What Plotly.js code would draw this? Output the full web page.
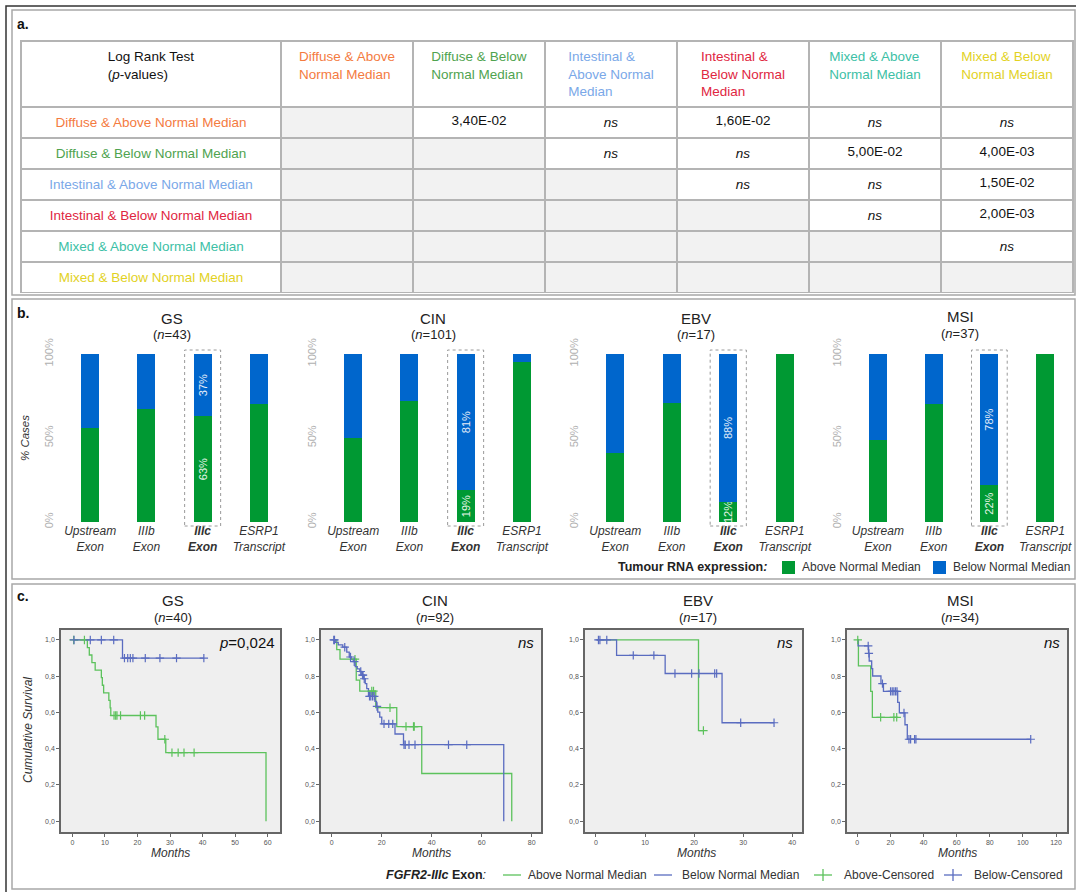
<!DOCTYPE html>
<html>
<head>
<meta charset="utf-8">
<script src="https://cdn.plot.ly/plotly-3.0.1.min.js"></script>
<style>html,body{margin:0;padding:0;background:#fff;}#chart{width:1076px;height:892px;}</style>
</head>
<body>
<div id="chart"></div>
<script>
// ---------------- DATA ----------------
// Panel a: Log rank test p-values
const groupLabels = ['Diffuse & Above Normal Median','Diffuse & Below Normal Median','Intestinal & Above Normal Median','Intestinal & Below Normal Median','Mixed & Above Normal Median','Mixed & Below Normal Median'];
const headerLabels = ['Diffuse & Above<br>Normal Median','Diffuse & Below<br>Normal Median','Intestinal &<br>Above Normal<br>Median','Intestinal &<br>Below Normal<br>Median','Mixed & Above<br>Normal Median','Mixed & Below<br>Normal Median'];
const groupColors = ['#f47b3f','#4fa34f','#7aa8e8','#e0263f','#3dbfa6','#e2d21f'];
const pRow1 = ['', '3,40E-02', 'ns', '1,60E-02', 'ns', 'ns'];
const pRow2 = ['', '', 'ns', 'ns', '5,00E-02', '4,00E-03'];
const pRow3 = ['', '', '', 'ns', 'ns', '1,50E-02'];
const pRow4 = ['', '', '', '', 'ns', '2,00E-03'];
const pRow5 = ['', '', '', '', '', 'ns'];
const pRow6 = ['', '', '', '', '', ''];

// Panel b: % cases above / below normal median
const subtypes = ['GS','CIN','EBV','MSI'];
const barN = [43, 101, 17, 37];
const barCats = ['Upstream Exon','IIIb Exon','IIIc Exon','ESRP1 Transcript'];
const barTickLabels = ['<i>Upstream<br>Exon</i>','<i>IIIb<br>Exon</i>','<b><i>IIIc<br>Exon</i></b>','<i>ESRP1<br>Transcript</i>'];
const aboveGS  = [56, 67, 63, 70];   const belowGS  = [44, 33, 37, 30];
const aboveCIN = [50, 72, 19, 95];   const belowCIN = [50, 28, 81, 5];
const aboveEBV = [41, 71, 12, 100];  const belowEBV = [59, 29, 88, 0];
const aboveMSI = [49, 70, 22, 100];  const belowMSI = [51, 30, 78, 0];
const barPctText = ['', '', 'show', ''];
const barSeriesNames = ['Above Normal Median', 'Below Normal Median'];

// Panel c: Kaplan-Meier curves (months, cumulative survival)
const survN = [40, 92, 17, 34];
const survP = ['<i>p</i>=0,024', '<i>ns</i>', '<i>ns</i>', '<i>ns</i>'];
const kmSeriesNames = ['Above Normal Median', 'Below Normal Median', 'Above-Censored', 'Below-Censored'];
// GS
const gsAboveT = [0.3,4.6,5.2,6.0,7.0,8.9,9.2,9.6,11.2,11.6,11.8,25.7,26.3,28.7,59.5];
const gsAboveS = [1,0.958,0.917,0.875,0.833,0.792,0.75,0.708,0.667,0.625,0.583,0.52,0.452,0.378,0];
const gsAboveCT = [0.4,3.7,12.8,13.3,13.7,14.8,20.9,22.2,28.4,30.6,32.5,34.3,37.4];
const gsAboveCS = [1,1,0.583,0.583,0.583,0.583,0.583,0.583,0.452,0.378,0.378,0.378,0.378];
const gsBelowT = [0.3,15.4,40.4];
const gsBelowS = [1,0.9,0.9];
const gsBelowCT = [0.5,5.5,8.9,12.7,16.0,17.0,17.8,18.6,22.4,26.9,32.0,40.4];
const gsBelowCS = [1,1,1,1,0.9,0.9,0.9,0.9,0.9,0.9,0.9,0.9];
// CIN
const cinAboveT = [0.6,2.0,3.3,9.8,11.2,17.6,26.0,36.0,72.0];
const cinAboveS = [1,0.947,0.894,0.778,0.718,0.626,0.522,0.263,0];
const cinAboveCT = [9.3,16.0,16.7,23.3,29.7,32.7,33.0];
const cinAboveCS = [0.894,0.718,0.718,0.626,0.522,0.522,0.522];
const cinBelowT = [0.4,1.4,2.6,4.4,6.0,7.0,7.8,8.6,9.4,10.2,11.2,12.0,12.7,13.4,14.0,14.7,17.3,17.9,18.4,19.2,20.0,25.3,28.7,68.8];
const cinBelowS = [1,0.987,0.973,0.96,0.933,0.906,0.893,0.88,0.853,0.84,0.826,0.806,0.786,0.759,0.731,0.689,0.661,0.633,0.602,0.574,0.537,0.481,0.422,0];
const cinBelowCT = [0.8,1.1,5.2,7.5,9.0,11.6,12.3,12.5,13.0,15.1,15.6,16.3,17.0,18.1,20.9,22.8,24.4,28.9,29.4,30.9,33.3,46.7,54.0];
const cinBelowCS = [1,1,0.96,0.906,0.88,0.826,0.806,0.806,0.786,0.689,0.689,0.689,0.689,0.633,0.537,0.537,0.537,0.422,0.422,0.422,0.422,0.422,0.422];
// EBV
const ebvAboveT = [0.2,20.9,21.9];
const ebvAboveS = [1,0.5,0.5];
const ebvAboveCT = [21.9];
const ebvAboveCS = [0.5];
const ebvBelowT = [0.2,4.2,14.1,25.7,36.3];
const ebvBelowS = [1,0.915,0.815,0.543,0.543];
const ebvBelowCT = [0.5,0.8,2.2,7.6,11.8,16.1,19.5,21.0,24.2,24.6,29.5,36.3];
const ebvBelowCS = [1,1,1,0.915,0.915,0.815,0.815,0.815,0.815,0.815,0.543,0.543];
// MSI
const msiAboveT = [0,0.7,8.1,9.1,24.2];
const msiAboveS = [1,0.857,0.716,0.573,0.573];
const msiAboveCT = [0.3,14.1,22.1,23.8];
const msiAboveCS = [1,0.573,0.573,0.573];
const msiBelowT = [0,0.5,6.8,7.2,8.7,9.3,14.3,15.8,24.4,25.4,28.8,30.2,104.7];
const msiBelowS = [1,0.967,0.926,0.884,0.842,0.801,0.759,0.716,0.656,0.597,0.532,0.452,0.452];
const msiBelowCT = [6.6,7.0,15.2,20.1,21.1,22.1,23.1,24.0,28.2,31.2,32.2,34.6,35.4,104.7];
const msiBelowCS = [0.967,0.926,0.759,0.716,0.716,0.716,0.716,0.716,0.597,0.452,0.452,0.452,0.452,0.452];

const survXTicks = [[0,10,20,30,40,50,60],[0,20,40,60,80],[0,10,20,30,40],[0,20,40,60,80,100,120]];
const survYTicks = [0,0.2,0.4,0.6,0.8,1.0];

// ---------------- LAYOUT HELPERS ----------------
const W = 1076, H = 892;
const px = x => x / W;
const py = y => 1 - y / H;
const FONT = 'Liberation Sans, Arial, sans-serif';
const GREEN_BAR = '#009933', BLUE_BAR = '#0066cc';
const GREEN_KM = '#5cc25c', BLUE_KM = '#5a6cc0';

const traces = [];

// ---------------- TABLE ----------------
const pRows = [pRow1,pRow2,pRow3,pRow4,pRow5,pRow6];
const fmt = v => v === 'ns' ? '<i>ns</i>' : v;
const cellCols = [groupLabels].concat(headerLabels.map((h, j) => pRows.map(r => fmt(r[j]))));
const cellFill = cellCols.map((col, j) => col.map((v, i) => (j === 0) ? 'white' : ((j - 1) <= i ? '#f2f2f2' : 'white')));
const cellFont = cellCols.map((col, j) => col.map((v, i) => j === 0 ? groupColors[i] : '#111'));
traces.push({
  type: 'table',
  domain: {x: [px(21), px(1073)], y: [py(293), py(41)]},
  columnwidth: [260,132,132,132,132,132,132],
  header: {
    values: ['Log Rank Test<br>(<i>p</i>-values)'].concat(headerLabels),
    align: 'center', height: 62,
    font: {family: FONT, size: 13.5, color: ['#111'].concat(groupColors)},
    fill: {color: 'white'},
    line: {color: '#b4b4b4', width: 1.5}
  },
  cells: {
    values: cellCols, align: 'center', height: 31,
    font: {family: FONT, size: 13.5, color: cellFont},
    fill: {color: cellFill},
    line: {color: '#b4b4b4', width: 1.5}
  }
});

// ---------------- BARS ----------------
const aboveAll = [aboveGS, aboveCIN, aboveEBV, aboveMSI];
const belowAll = [belowGS, belowCIN, belowEBV, belowMSI];
const barDomains = [[62,287],[325,550],[587,813],[850,1073]];
const barTitleX = [172, 433, 696, 960];
const layout = {
  width: W, height: H, margin: {l:0,r:0,t:0,b:0},
  paper_bgcolor: 'white', plot_bgcolor: 'rgba(0,0,0,0)',
  barmode: 'stack', separators: ',.',
  font: {family: FONT, color: '#222'},
  showlegend: false,
  shapes: [], annotations: []
};

subtypes.forEach((s, k) => {
  const ax = k + 1;
  const xa = 'x' + ax, ya = 'y' + ax;
  traces.push({
    type: 'bar', x: barCats, y: aboveAll[k], xaxis: xa, yaxis: ya, width: 0.32,
    name: barSeriesNames[0], marker: {color: GREEN_BAR, line: {width: 0}},
    text: aboveAll[k].map((v, i) => barPctText[i] ? v + '%' : ''),
    textposition: 'inside', insidetextanchor: 'middle', textangle: -90, constraintext: 'none',
    textfont: {family: FONT, size: 11, color: '#e8f5e8'}, hoverinfo: 'skip'
  });
  traces.push({
    type: 'bar', x: barCats, y: belowAll[k], xaxis: xa, yaxis: ya, width: 0.32,
    name: barSeriesNames[1], marker: {color: BLUE_BAR, line: {width: 0}},
    text: belowAll[k].map((v, i) => barPctText[i] ? v + '%' : ''),
    textposition: 'inside', insidetextanchor: 'middle', textangle: -90, constraintext: 'none',
    textfont: {family: FONT, size: 11, color: '#e6eefa'}, hoverinfo: 'skip'
  });
  const d = barDomains[k];
  layout['xaxis' + ax] = {
    domain: [px(d[0]), px(d[1])], range: [-0.5, 3.5], anchor: ya, type: 'category',
    tickvals: barCats, ticktext: barTickLabels, showgrid: false, zeroline: false, showline: false, ticks: '',
    tickfont: {family: FONT, size: 12, color: '#333'}, fixedrange: true
  };
  layout['yaxis' + ax] = {
    domain: [py(522), py(354)], range: [0, 100], anchor: xa,
    tickvals: [0, 50, 100], ticktext: ['0%', '50%', '100%'], tickangle: -90,
    tickfont: {family: FONT, size: 11, color: '#b0b0b0'}, showgrid: false, zeroline: false, showline: false, ticks: '',
    ticklabelstandoff: 6, fixedrange: true
  };
  layout.shapes.push({type: 'rect', xref: xa, yref: 'paper', x0: 1.68, x1: 2.32, y0: py(526), y1: py(350),
    line: {color: '#9a9a9a', width: 1, dash: 'dot'}, fillcolor: 'rgba(0,0,0,0)'});
  layout.annotations.push({xref: 'paper', yref: 'paper', x: px(barTitleX[k]), y: py(k === 3 ? 316 : 318), text: s,
    showarrow: false, font: {family: FONT, size: 15, color: '#222'}, xanchor: 'center', yanchor: 'middle'});
  layout.annotations.push({xref: 'paper', yref: 'paper', x: px(barTitleX[k]), y: py(k === 3 ? 333 : 335), text: '(<i>n</i>=' + barN[k] + ')',
    showarrow: false, font: {family: FONT, size: 13, color: '#222'}, xanchor: 'center', yanchor: 'middle'});
});

// ---------------- SURVIVAL ----------------
const survSets = [
  [gsAboveT, gsAboveS, gsBelowT, gsBelowS, gsAboveCT, gsAboveCS, gsBelowCT, gsBelowCS],
  [cinAboveT, cinAboveS, cinBelowT, cinBelowS, cinAboveCT, cinAboveCS, cinBelowCT, cinBelowCS],
  [ebvAboveT, ebvAboveS, ebvBelowT, ebvBelowS, ebvAboveCT, ebvAboveCS, ebvBelowCT, ebvBelowCS],
  [msiAboveT, msiAboveS, msiBelowT, msiBelowS, msiAboveCT, msiAboveCS, msiBelowCT, msiBelowCS]
];
const survDomains = [[61,280],[321,541],[585,802],[847,1067]];
const survRanges = [[-3.5,63.8],[-4.3,83.7],[-2.24,42.0],[-6.2,126.6]];
const survTitleX = [173, 435, 698, 960];
const monthsX = [170, 431, 696, 957];
const pRight = [277, 536, 795, 1062];

subtypes.forEach((s, k) => {
  const ax = k + 5;
  const xa = 'x' + ax, ya = 'y' + ax;
  const d = survSets[k];
  traces.push({type: 'scatter', mode: 'lines', x: d[0], y: d[1], xaxis: xa, yaxis: ya,
    line: {color: GREEN_KM, width: 1.3, shape: 'hv'}, name: kmSeriesNames[0], hoverinfo: 'skip'});
  traces.push({type: 'scatter', mode: 'lines', x: d[2], y: d[3], xaxis: xa, yaxis: ya,
    line: {color: BLUE_KM, width: 1.3, shape: 'hv'}, name: kmSeriesNames[1], hoverinfo: 'skip'});
  traces.push({type: 'scatter', mode: 'markers', x: d[4], y: d[5], xaxis: xa, yaxis: ya,
    marker: {symbol: 'cross-thin', size: 6, line: {color: GREEN_KM, width: 1.2}, color: GREEN_KM},
    name: kmSeriesNames[2], hoverinfo: 'skip'});
  traces.push({type: 'scatter', mode: 'markers', x: d[6], y: d[7], xaxis: xa, yaxis: ya,
    marker: {symbol: 'cross-thin', size: 6, line: {color: BLUE_KM, width: 1.2}, color: BLUE_KM},
    name: kmSeriesNames[3], hoverinfo: 'skip'});
  const dm = survDomains[k];
  layout['xaxis' + ax] = {
    domain: [px(dm[0]), px(dm[1])], range: survRanges[k], anchor: ya,
    tickvals: survXTicks[k], ticks: 'outside', ticklen: 3, tickcolor: '#666', tickwidth: 1,
    tickfont: {family: FONT, size: 7, color: '#555'}, showgrid: false, zeroline: false,
    showline: true, mirror: true, linecolor: '#666', linewidth: 1.5, fixedrange: true
  };
  layout['yaxis' + ax] = {
    domain: [py(832), py(630)], range: [-0.06, 1.055], anchor: xa,
    tickvals: survYTicks, tickformat: '.1f', ticks: 'outside', ticklen: 3, tickcolor: '#666', tickwidth: 1,
    tickfont: {family: FONT, size: 7, color: '#555'}, showgrid: false, zeroline: false,
    showline: true, mirror: true, linecolor: '#666', linewidth: 1.5, fixedrange: true
  };
  layout.shapes.push({type: 'rect', xref: xa + ' domain', yref: ya + ' domain', x0: 0, x1: 1, y0: 0, y1: 1,
    fillcolor: '#efefef', line: {width: 0}, layer: 'below'});
  layout.annotations.push({xref: 'paper', yref: 'paper', x: px(survTitleX[k]), y: py(600), text: s,
    showarrow: false, font: {family: FONT, size: 15, color: '#222'}, xanchor: 'center', yanchor: 'middle'});
  layout.annotations.push({xref: 'paper', yref: 'paper', x: px(survTitleX[k]), y: py(617), text: '(<i>n</i>=' + survN[k] + ')',
    showarrow: false, font: {family: FONT, size: 13, color: '#222'}, xanchor: 'center', yanchor: 'middle'});
  layout.annotations.push({xref: 'paper', yref: 'paper', x: px(pRight[k]), y: py(642), text: survP[k],
    showarrow: false, font: {family: FONT, size: 15, color: '#111'}, xanchor: 'right', yanchor: 'middle'});
  layout.annotations.push({xref: 'paper', yref: 'paper', x: px(monthsX[k]), y: py(853), text: '<i>Months</i>',
    showarrow: false, font: {family: FONT, size: 12, color: '#333'}, xanchor: 'center', yanchor: 'middle'});
});

// ---------------- PANEL FRAMES & LABELS ----------------
const paperRect = (x0, y0, x1, y1, color, width) => ({type:'rect', xref:'paper', yref:'paper', x0:px(x0), x1:px(x1), y0:py(y1), y1:py(y0), line:{color:color, width:width}, fillcolor:'rgba(0,0,0,0)'});
layout.shapes.push(paperRect(6, 6, 1090, 900, '#333', 1.5));
layout.shapes.push(paperRect(12, 10, 1075, 295, '#a8a8a8', 1.5));
layout.shapes.push(paperRect(12, 299, 1075, 579, '#a8a8a8', 1.5));
layout.shapes.push(paperRect(12, 584, 1075, 889, '#a8a8a8', 1.5));

const txt = (x, y, text, size, opts) => Object.assign({xref:'paper', yref:'paper', x:px(x), y:py(y), text:text, showarrow:false,
  font:{family:FONT, size:size, color:'#222'}, xanchor:'left', yanchor:'middle'}, opts || {});
[['a.', 24], ['b.', 313], ['c.', 596]].forEach(p => layout.annotations.push(txt(15, p[1], '<b>' + p[0] + '</b>', 14, {font:{family:FONT, size:14, color:'#111'}})));
layout.annotations.push(txt(25, 438, '<i>% Cases</i>', 11.5, {textangle:-90, xanchor:'center', font:{family:FONT, size:11.5, color:'#333'}}));
layout.annotations.push(txt(28, 730, '<i>Cumulative Survival</i>', 12, {textangle:-90, xanchor:'center', font:{family:FONT, size:12, color:'#333'}}));

// ---------------- LEGENDS (drawn as keys) ----------------
// Panel b key
layout.annotations.push(txt(769, 567, '<b>Tumour RNA expression<i>:</i></b>', 12.5, {xanchor:'right', font:{family:FONT, size:12.5, color:'#222'}}));
layout.shapes.push({type:'rect', xref:'paper', yref:'paper', x0:px(782), x1:px(795), y0:py(574), y1:py(561), fillcolor:GREEN_BAR, line:{width:0}});
layout.annotations.push(txt(800, 567, barSeriesNames[0], 12, {font:{family:FONT, size:12, color:'#333'}}));
layout.shapes.push({type:'rect', xref:'paper', yref:'paper', x0:px(933), x1:px(946), y0:py(574), y1:py(561), fillcolor:BLUE_BAR, line:{width:0}});
layout.annotations.push(txt(951, 567, barSeriesNames[1], 12, {font:{family:FONT, size:12, color:'#333'}}));
// Panel c key
const LY = 875;
const hline = (x0, x1, y, c) => ({type:'line', xref:'paper', yref:'paper', x0:px(x0), x1:px(x1), y0:py(y), y1:py(y), line:{color:c, width:1.3}});
const vline = (x, y0, y1, c) => ({type:'line', xref:'paper', yref:'paper', x0:px(x), x1:px(x), y0:py(y0), y1:py(y1), line:{color:c, width:1.3}});
layout.annotations.push(txt(488, LY, '<b><i>FGFR2-IIIc</i> Exon</b><i>:</i>', 12.5, {xanchor:'right', font:{family:FONT, size:12.5, color:'#222'}}));
layout.shapes.push(hline(503, 521, LY, GREEN_KM));
layout.annotations.push(txt(526, LY, kmSeriesNames[0], 12, {font:{family:FONT, size:12, color:'#333'}}));
layout.shapes.push(hline(654, 672, LY, BLUE_KM));
layout.annotations.push(txt(680, LY, kmSeriesNames[1], 12, {font:{family:FONT, size:12, color:'#333'}}));
layout.shapes.push(hline(814, 832, LY, GREEN_KM));
layout.shapes.push(vline(823, LY - 6, LY + 6, GREEN_KM));
layout.annotations.push(txt(842, LY, kmSeriesNames[2], 12, {font:{family:FONT, size:12, color:'#333'}}));
layout.shapes.push(hline(944, 962, LY, BLUE_KM));
layout.shapes.push(vline(953, LY - 6, LY + 6, BLUE_KM));
layout.annotations.push(txt(972, LY, kmSeriesNames[3], 12, {font:{family:FONT, size:12, color:'#333'}}));

Plotly.newPlot('chart', traces, layout, {displayModeBar: false, responsive: false});
</script>
</body>
</html>
